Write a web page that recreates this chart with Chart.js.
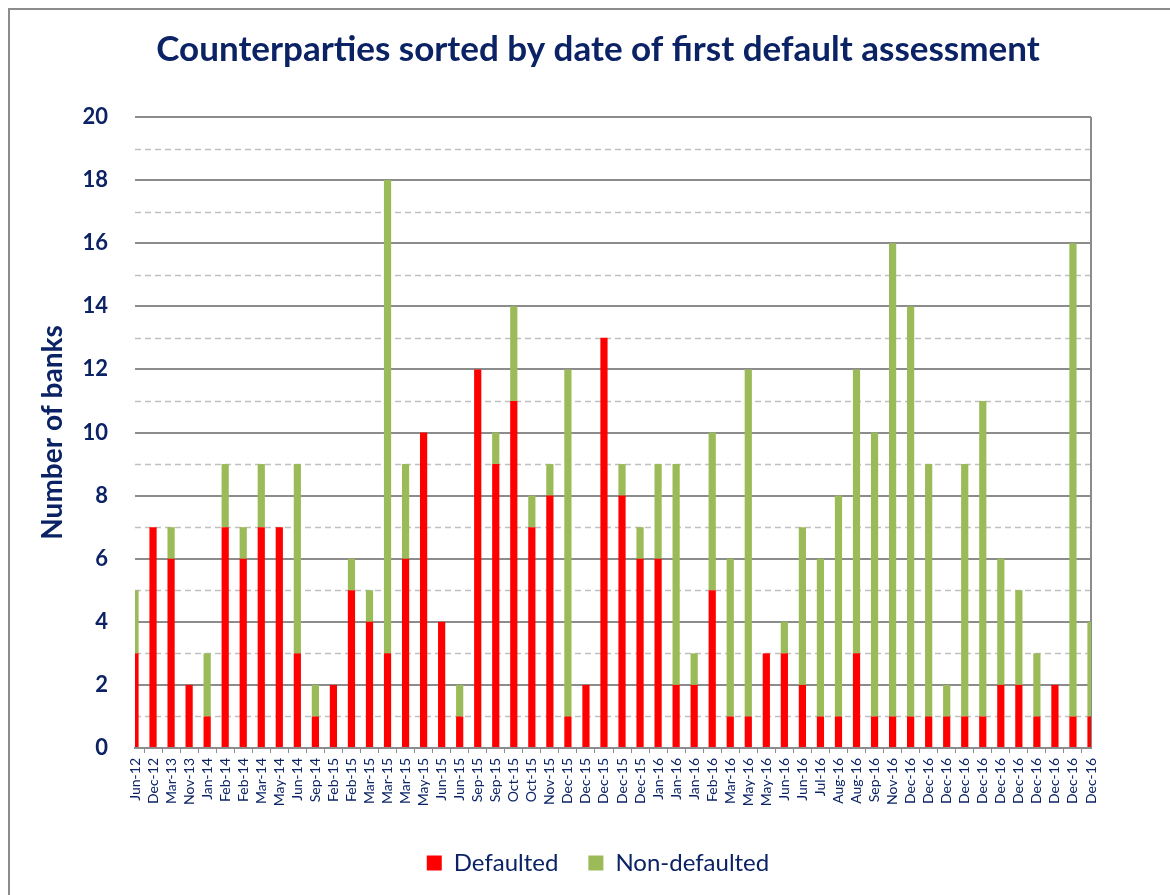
<!DOCTYPE html>
<html>
<head>
<meta charset="utf-8">
<script src="https://cdn.jsdelivr.net/npm/chart.js@4"></script>
<style>
  html, body { margin: 0; padding: 0; background: #fff; }
  #wrap { position: relative; width: 1170px; height: 895px; }
  #frame { position: absolute; left: 8px; top: 8px; width: 1200px; height: 950px;
           border-left: 2px solid #8c8c8c; border-top: 2px solid #8c8c8c; }
  #myChart { position: absolute; left: 0; top: 0; }
</style>
</head>
<body>
<div id="wrap">
  <div id="frame"></div>
  <canvas id="myChart" width="1170" height="895"></canvas>
</div>
<script>
const labels = [
  "Jun-12", "Dec-12", "Mar-13", "Nov-13", "Jan-14", "Feb-14", "Feb-14", "Mar-14", "May-14", "Jun-14",
  "Sep-14", "Feb-15", "Feb-15", "Mar-15", "Mar-15", "Mar-15", "May-15", "Jun-15", "Jun-15", "Sep-15",
  "Sep-15", "Oct-15", "Oct-15", "Nov-15", "Dec-15", "Dec-15", "Dec-15", "Dec-15", "Dec-15", "Jan-16",
  "Jan-16", "Jan-16", "Feb-16", "Mar-16", "May-16", "May-16", "Jun-16", "Jun-16", "Jul-16", "Aug-16",
  "Aug-16", "Sep-16", "Nov-16", "Dec-16", "Dec-16", "Dec-16", "Dec-16", "Dec-16", "Dec-16", "Dec-16",
  "Dec-16", "Dec-16", "Dec-16", "Dec-16",
];

const defaulted = [
  3, 7, 6, 2, 1, 7, 6, 7, 7, 3,
  1, 2, 5, 4, 3, 6, 10, 4, 1, 12,
  9, 11, 7, 8, 1, 2, 13, 8, 6, 6,
  2, 2, 5, 1, 1, 3, 3, 2, 1, 1,
  3, 1, 1, 1, 1, 1, 1, 1, 2, 2,
  1, 2, 1, 1,
];

const nonDefaulted = [
  2, 0, 1, 0, 2, 2, 1, 2, 0, 6,
  1, 0, 1, 1, 15, 3, 0, 0, 1, 0,
  1, 3, 1, 1, 11, 0, 0, 1, 1, 3,
  7, 1, 5, 5, 11, 0, 1, 5, 5, 7,
  9, 9, 15, 13, 8, 1, 8, 10, 4, 3,
  2, 0, 15, 3,
];

const yTicks = [0, 2, 4, 6, 8, 10, 12, 14, 16, 18, 20];

const navy = "#0b2364";

// dashed minor lines at odd values + right border of plot area
const minorGrid = {
  id: "minorGrid",
  beforeDatasetsDraw(chart) {
    const { ctx, chartArea, scales } = chart;
    const y = scales.y;
    ctx.save();
    ctx.strokeStyle = "#c0c0c0";
    ctx.lineWidth = 1.5;
    ctx.setLineDash([6, 4]);
    for (let v = 1; v < 20; v += 2) {
      const py = Math.round(y.getPixelForValue(v)) + 0.5;
      ctx.beginPath();
      ctx.moveTo(chartArea.left, py);
      ctx.lineTo(chartArea.right, py);
      ctx.stroke();
    }
    ctx.setLineDash([]);
    ctx.strokeStyle = "#8c8c8c";
    ctx.lineWidth = 2;
    ctx.beginPath();
    ctx.moveTo(chartArea.right, chartArea.top);
    ctx.lineTo(chartArea.right, chartArea.bottom);
    ctx.stroke();
    ctx.restore();
  },
};

new Chart(document.getElementById("myChart"), {
  type: "bar",
  data: {
    labels: labels,
    datasets: [
      {
        label: "Defaulted",
        data: defaulted,
        backgroundColor: "#ff0000",
        barPercentage: 0.4,
        categoryPercentage: 1,
        clip: 0,
      },
      {
        label: "Non-defaulted",
        data: nonDefaulted,
        backgroundColor: "#9bbb59",
        barPercentage: 0.4,
        categoryPercentage: 1,
        clip: 0,
      },
    ],
  },
  options: {
    responsive: false,
    animation: false,
    layout: {
      padding: { left: 36, right: 10, top: 0, bottom: 10 },
    },
    scales: {
      x: {
        stacked: true,
        offset: false,
        afterFit: (scale) => { scale.height = 73; },
        grid: {
          drawOnChartArea: false,
          drawTicks: true,
          tickLength: 5,
          color: "#8c8c8c",
        },
        border: { color: "#8c8c8c", width: 2 },
        ticks: {
          autoSkip: false,
          minRotation: 90,
          maxRotation: 90,
          padding: 5,
          color: navy,
          font: { family: "Lato", size: 14 },
        },
      },
      y: {
        stacked: true,
        min: 0,
        max: 20,
        afterFit: (scale) => { scale.width = 99; },
        afterBuildTicks: (scale) => {
          scale.ticks = yTicks.map((v) => ({ value: v }));
        },
        grid: {
          drawTicks: false,
          color: "#8c8c8c",
          lineWidth: 2,
        },
        border: { display: false },
        ticks: {
          padding: 27,
          color: navy,
          font: { family: "Lato", size: 22, weight: "bold" },
        },
        title: {
          display: true,
          text: "Number of banks",
          color: navy,
          padding: { top: 0, bottom: 0 },
          font: { family: "Lato", size: 28, weight: "bold" },
        },
      },
      yRight: {
        position: "right",
        afterFit: (scale) => { scale.width = 69; },
        grid: { drawOnChartArea: false, drawTicks: false },
        border: { display: false },
        ticks: { display: false },
      },
    },
    plugins: {
      title: {
        display: true,
        text: "Counterparties sorted by date of first default assessment",
        color: navy,
        font: { family: "Lato", size: 35, weight: "bold" },
        padding: { top: 29, bottom: 46 },
      },
      legend: {
        position: "bottom",
        labels: {
          color: navy,
          boxWidth: 15,
          boxHeight: 15,
          padding: 30,
          font: { family: "Lato", size: 24 },
        },
      },
      tooltip: { enabled: false },
    },
  },
  plugins: [minorGrid],
});
</script>
</body>
</html>
